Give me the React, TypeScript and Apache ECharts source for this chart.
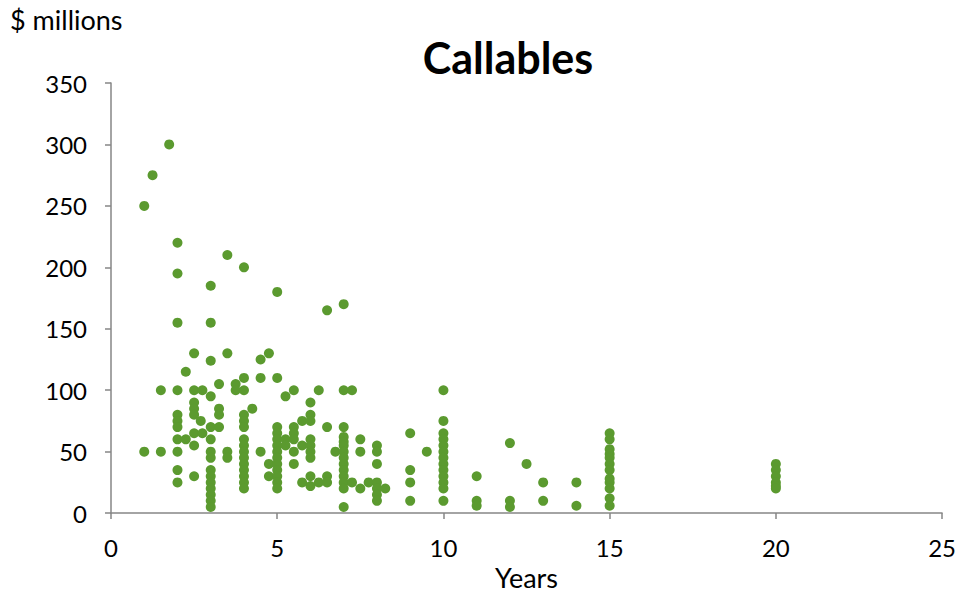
import React, { useEffect, useRef } from "react";
import * as echarts from "echarts";

const maturities: number[] = [
  1, 1.25, 1.5, 1.75, 2, 2.25, 2.5, 2.7, 2.75, 3, 3.25, 3.5, 3.75, 4, 4.25, 4.5, 4.75, 5, 5.25, 5.5, 5.75, 6,
  6.25, 6.5, 6.75, 7, 7.25, 7.5, 7.75, 8, 8.25, 9, 9.5, 10, 11, 12, 12.5, 13, 14, 15, 20,
];

const amountsByMaturity: number[][] = [
  [250, 50],
  [275],
  [100, 50],
  [300],
  [220, 195, 155, 100, 80, 75, 70, 60, 50, 35, 25],
  [115, 60],
  [130, 100, 90, 85, 80, 65, 55, 30],
  [75],
  [100, 65],
  [185, 155, 124, 95, 70, 60, 50, 45, 35, 30, 25, 20, 15, 10, 5],
  [105, 85, 80, 70],
  [210, 130, 50, 45],
  [105, 100],
  [200, 110, 100, 80, 75, 70, 60, 55, 50, 45, 40, 35, 30, 25, 20],
  [85],
  [125, 110, 50],
  [130, 40, 30],
  [180, 110, 70, 65, 60, 55, 50, 45, 40, 35, 30, 25, 20],
  [95, 60, 55],
  [100, 70, 65, 60, 50, 40],
  [75, 55, 25],
  [90, 80, 75, 60, 55, 50, 45, 30, 22],
  [100, 25],
  [165, 70, 30, 25],
  [50],
  [170, 100, 70, 62, 58, 55, 50, 45, 40, 35, 30, 25, 20, 5],
  [100, 25],
  [60, 50, 20],
  [25],
  [55, 50, 40, 25, 20, 15, 10],
  [20],
  [65, 35, 25, 10],
  [50],
  [100, 75, 65, 60, 55, 50, 45, 40, 35, 30, 25, 20, 10],
  [30, 10, 6],
  [57, 10, 5],
  [40],
  [25, 10],
  [25, 6],
  [65, 60, 52, 48, 45, 40, 35, 28, 25, 20, 12, 6],
  [40, 35, 30, 25, 22, 20],
];

const chartTitle = "Callables";
const yAxisTitle = "$ millions";
const xAxisTitle = "Years";

const FONT = "Lato, 'Noto Sans', sans-serif";

export default function App() {
  const ref = useRef<HTMLDivElement>(null);

  useEffect(() => {
    if (!ref.current) return;
    const chart = echarts.init(ref.current, undefined, { renderer: "svg" });
    const points: number[][] = [];
    maturities.forEach((m, i) => {
      amountsByMaturity[i].forEach((v) => points.push([m, v]));
    });
    const axisLine = { lineStyle: { color: "#868686", width: 1.5 } };
    chart.setOption({
      animation: false,
      backgroundColor: "#ffffff",
      graphic: [
        {
          type: "text",
          x: 508,
          y: 57,
          style: {
            text: chartTitle,
            fontFamily: FONT,
            fontSize: 43,
            fontWeight: "bold",
            fill: "#000",
            align: "center",
            verticalAlign: "middle",
          },
        },
        {
          type: "text",
          left: 10,
          top: 6,
          style: { text: yAxisTitle, fontFamily: FONT, fontSize: 27, fill: "#000" },
        },
      ],
      grid: { left: 111, right: 14, top: 83, bottom: 79 },
      xAxis: {
        type: "value",
        min: 0,
        max: 25,
        interval: 5,
        name: xAxisTitle,
        nameLocation: "middle",
        nameGap: 47,
        nameTextStyle: { fontFamily: FONT, fontSize: 27, color: "#000" },
        axisLine: { show: true, ...axisLine },
        axisTick: { show: true, length: 6, lineStyle: { color: "#868686", width: 1.5 } },
        axisLabel: { fontFamily: FONT, fontSize: 24, color: "#000", margin: 22 },
        splitLine: { show: false },
      },
      yAxis: {
        type: "value",
        min: 0,
        max: 350,
        interval: 50,
        axisLine: { show: true, ...axisLine },
        axisTick: { show: true, length: 6, lineStyle: { color: "#868686", width: 1.5 } },
        axisLabel: { fontFamily: FONT, fontSize: 24, color: "#000", margin: 24 },
        splitLine: { show: false },
      },
      series: [
        {
          type: "scatter",
          data: points,
          symbol: "circle",
          symbolSize: 10,
          itemStyle: { color: "#5b9a2f", opacity: 1 },
        },
      ],
    });
    return () => chart.dispose();
  }, []);

  return (
    <div
      ref={ref}
      style={{ position: "absolute", left: 0, top: 0, width: 959, height: 596 }}
    />
  );
}
